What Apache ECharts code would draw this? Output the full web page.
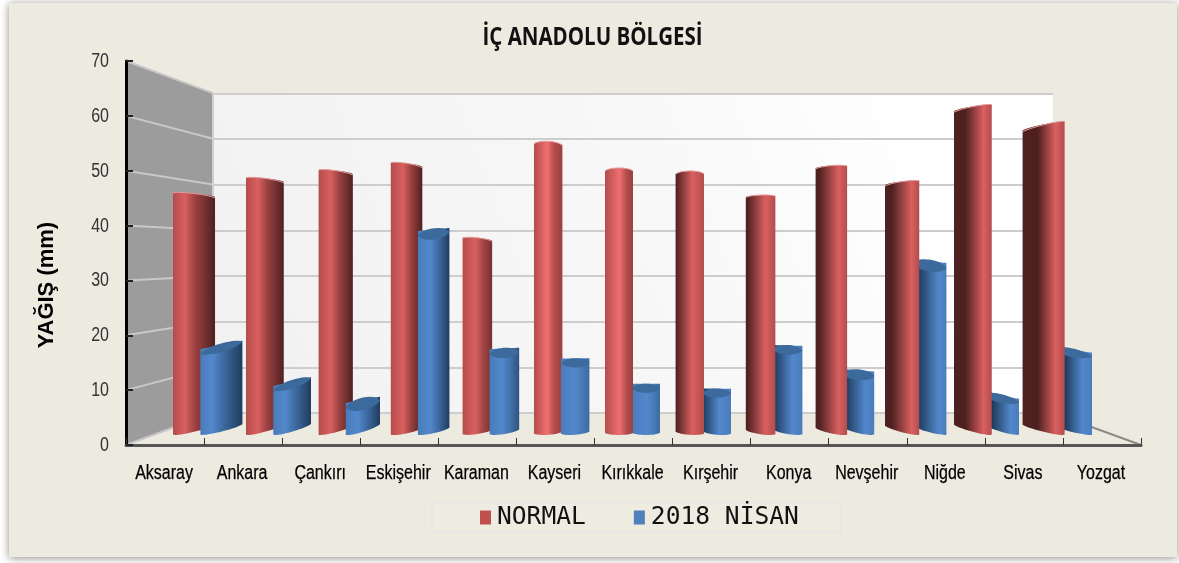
<!DOCTYPE html>
<html><head><meta charset="utf-8">
<style>html,body{margin:0;padding:0;background:#fff}#c{width:1179px;height:563px}</style>
<script src="https://cdn.jsdelivr.net/npm/echarts@6/dist/echarts.min.js"></script>
</head><body><div id="c"></div>
<script>
const categories = ['Aksaray','Ankara','Çankırı','Eskişehir','Karaman','Kayseri','Kırıkkale','Kırşehir','Konya','Nevşehir','Niğde','Sivas','Yozgat'];
const normalValues = [45.4,48.3,49.8,51.2,36.9,55.2,50.2,49.6,45.2,50.8,47.7,62.1,58.6];
const april2018Values = [16.2,9.2,5.4,38.1,15.2,13.3,8.4,7.5,15.8,11.0,32.0,6.5,15.3];
const yTicks = [0,10,20,30,40,50,60,70];

const chart = echarts.init(document.getElementById('c'), null, {renderer:'canvas'});
const FONT = '"Liberation Sans",sans-serif';

function mix(a,b,f){
  const p=s=>[1,3,5].map(k=>parseInt(s.substr(k,2),16));
  const A=p(a),B=p(b);
  return 'rgb('+A.map((v,k)=>Math.round(v+(B[k]-v)*f)).join(',')+')';
}
function shade(i,pal){
  const d=i-6,t=Math.abs(d);
  const h = d<0 ? 0.5+0.037*d : Math.min(0.78,0.52+0.07*t);
  const glow = (d===0||d===-1) ? pal.bright : pal.glow;
  if(d<=0){
    const a=Math.min(1,Math.max(0,(t-1)/2));
    return [{offset:0,color:pal.side},{offset:h,color:glow},
            {offset:Math.min(.95,h+.25),color:mix(pal.side,pal.dark,a*.25)},
            {offset:1,color:mix(pal.edge,pal.dark,a)}];
  }
  const plate=Math.min(.36,.012*t*t);
  return [{offset:0,color:pal.dark},{offset:plate,color:pal.dark},
          {offset:h,color:glow},{offset:1,color:pal.side}];
}
const RED={side:'#b44c4c',glow:'#d96060',bright:'#ee7070',edge:'#9a4040',dark:'#4f2020',cap:'#e49a9a'};
const BLUE={side:'#4a7cba',glow:'#5288cc',bright:'#5288cc',edge:'#3d6a9f',dark:'#1f3c5e',cap:'#3d6a9c'};

function arc(xa,ya,xb,yb,bulge){
  const dx=xb-xa,dy=yb-ya;
  return ' C'+(xa+dx*.15)+' '+(ya+dy*.15+bulge*1.33)+' '+(xa+dx*.85)+' '+(ya+dy*.85+bulge*1.33)+' '+xb+' '+yb;
}
function barRender(isBlue){
  return function(params,api){
    const i=api.value(0),v=api.value(1);
    const top=api.coord([i,v]),zero=api.coord([i,0]);
    const c=top[0],t=Math.abs(i-6),left=i<6;
    const w=28+0.39*t*t, spread=0.2*t*t;
    const L=isBlue?c+28+spread-w:c-27-spread, R=L+w;
    const baseTilt=10*Math.min(1,t/4.5), low=zero[1]+1;
    const bL=left?low:low-baseTilt, bR=left?low-baseTilt:low;
    let tL,tR;
    if(isBlue){
      const k=8*Math.min(1,Math.pow(t/5,2))*(left?1:.7);
      tL=top[1]+(left?k/2:-k/2); tR=top[1]+(left?-k/2:k/2);
    }else{
      const k=left?4*Math.min(1,t/3):9*Math.pow(t/6,2);
      tL=top[1]+(left?-k/2:k/2); tR=top[1]+(left?k/2:-k/2);
    }
    const front=isBlue?(i>=6?30:40):(i>=6?40:30);
    const pal=isBlue?BLUE:RED;
    const capB=isBlue?(t>=5?3:4.5):(t>=2?1.5:3);
    const bodyTop=isBlue?0:-capB;
    const body='M'+L+' '+tL+' L'+L+' '+bL+arc(L,bL,R,bR,2)+' L'+R+' '+tR+arc(R,tR,L,tL,bodyTop);
    const children=[{type:'path',z2:front,shape:{pathData:body,x:L,y:Math.min(tL,tR)-capB,width:R-L,height:Math.max(bL,bR)+2-Math.min(tL,tR)+capB,layout:'cover'},
      style:{fill:{type:'linear',x:0,y:0,x2:1,y2:0,colorStops:shade(i,pal)}}}];
    if(isBlue){
      children.push({type:'path',z2:front+1,shape:{pathData:'M'+L+' '+tL+arc(L,tL,R,tR,-capB)+arc(R,tR,L,tL,capB)+'Z',x:L,y:Math.min(tL,tR)-capB,width:R-L,height:Math.abs(tR-tL)+capB*2,layout:'cover'},
        style:{fill:pal.cap}});
    }else{
      children.push({type:'path',z2:front+1,shape:{pathData:'M'+L+' '+tL+arc(L,tL,R,tR,-capB),x:L,y:Math.min(tL,tR)-capB,width:R-L,height:Math.abs(tR-tL)+capB,layout:'cover'},
        style:{fill:'none',stroke:pal.cap,lineWidth:1}});
    }
    return {type:'group',children};
  };
}
const DEPTH_X=87, BACK_ZERO=413, BACK_RATIO=4.57/5.486, RIGHT_BACK=1053;
function wallRender(params,api){
  const v=api.value(1);
  const p=api.coord([0,v]), z=api.coord([0,0]), top=api.coord([0,70]);
  const xF=z[0]-api.size([1,0])[0]/2, xB=xF+DEPTH_X;
  const back=y=>BACK_ZERO-(z[1]-y)*BACK_RATIO;
  const kids=[];
  if(params.dataIndex===0){
    kids.push({type:'polygon',z2:1,shape:{points:[[xF,top[1]],[xB,back(top[1])],[xB,BACK_ZERO],[xF,z[1]]]},style:{fill:'#9c9c9c'}});
    kids.push({type:'line',z2:3,shape:{x1:RIGHT_BACK,y1:BACK_ZERO,x2:xF+1015,y2:z[1]},style:{stroke:'#8a8a86',lineWidth:2}});
    kids.push({type:'line',z2:3,shape:{x1:xB,y1:back(top[1]),x2:xB,y2:BACK_ZERO},style:{stroke:'#cfcfcf',lineWidth:2}});
  }
  kids.push({type:'line',z2:2,shape:{x1:xF,y1:p[1],x2:xB,y2:back(p[1])},style:{stroke:'#c8c8c8',lineWidth:2}});
  return {type:'group',children:kids};
}
function yLabelRender(params,api){
  const v=api.value(1),p=api.coord([0,v]);
  const x=p[0]-api.size([1,0])[0]/2-17;
  return {type:'text',x:x,y:p[1]+.5,scaleX:.8,z2:60,
    style:{text:String(v),align:'right',verticalAlign:'middle',fontFamily:FONT,fontSize:20,fill:'#333'}};
}
function xLabelRender(params,api){
  const i=api.value(0),p=api.coord([i,0]);
  return {type:'text',x:p[0]-1,y:p[1]+28,scaleX:.8,z2:60,
    style:{text:categories[i],align:'center',verticalAlign:'middle',fontFamily:FONT,fontSize:20,fill:'#000',stroke:'#000',lineWidth:.25}};
}

const option={
  animation:false,
  backgroundColor:'#ffffff',
  graphic:[
    {type:'rect',z:-10,silent:true,shape:{x:9,y:3,width:1168,height:554},
     style:{fill:'#edeae0',shadowBlur:8,shadowColor:'rgba(0,0,0,.45)',shadowOffsetX:0,shadowOffsetY:1}},
    {type:'text',z:10,silent:true,x:592.5,y:38,scaleX:.82,
     style:{text:'İÇ ANADOLU BÖLGESİ',align:'center',verticalAlign:'middle',fontFamily:'"Open Sans",sans-serif',fontWeight:'bold',fontSize:25,fill:'#111'}}
  ],
  legend:{left:432,top:503,orient:'horizontal',padding:[2,42,2,48],itemGap:48,itemWidth:11,itemHeight:14,
    icon:'rect',backgroundColor:'#eeebe1',borderColor:'#e2e5e6',borderWidth:1,borderRadius:0,
    textStyle:{fontFamily:'"DejaVu Sans Mono",monospace',fontSize:24.6,color:'#111',padding:[0,0,0,1]},
    data:['NORMAL','2018 NİSAN']},
  grid:[
    {left:126,top:61,right:38,bottom:118,show:false,z:5},
    {left:171.8,width:920.4,top:68,bottom:131,show:false},
    {left:213,right:126,top:93.3,bottom:150,show:true,borderWidth:0,z:0,
     backgroundColor:{type:'linear',x:0,y:1,x2:1,y2:0,colorStops:[{offset:0,color:'#f1f1f1'},{offset:.55,color:'#f8f8f8'},{offset:.85,color:'#ffffff'},{offset:1,color:'#ffffff'}]}}
  ],
  xAxis:[
    {gridIndex:0,type:'category',data:categories,z:6,
     axisLine:{lineStyle:{color:'#555',width:3}},
     axisTick:{show:true,inside:true,length:7,lineStyle:{color:'#333',width:1}},
     axisLabel:{show:false}},
    {gridIndex:1,type:'category',data:categories,show:false},
    {gridIndex:2,type:'category',data:categories,show:false}
  ],
  yAxis:[
    {gridIndex:0,type:'value',min:0,max:70,interval:10,z:6,
     name:'YAĞIŞ (mm)',nameLocation:'middle',nameGap:68,nameRotate:90,
     nameTextStyle:{fontFamily:'"Liberation Sans",sans-serif',fontWeight:'bold',fontSize:22,color:'#000',padding:[0,64,0,0]},
     axisLine:{show:true,lineStyle:{color:'#000',width:3}},
     axisTick:{show:true,inside:true,length:7,lineStyle:{color:'#222',width:2}},
     axisLabel:{show:false},
     splitLine:{show:false}},
    {gridIndex:1,type:'value',min:0,max:70,interval:10,show:false},
    {gridIndex:2,type:'value',min:0,max:70,interval:10,
     axisLine:{show:false},axisTick:{show:false},axisLabel:{show:false},
     splitLine:{show:true,lineStyle:{color:'#cdcdcd',width:2}}}
  ],
  series:[
    {type:'custom',name:'walls',xAxisIndex:0,yAxisIndex:0,z:1,silent:true,renderItem:wallRender,
     encode:{x:0,y:1},data:yTicks.map(v=>[0,v])},
    {type:'custom',name:'NORMAL',xAxisIndex:1,yAxisIndex:1,z:3,silent:true,itemStyle:{color:'#c0504d'},
     renderItem:barRender(false),encode:{x:0,y:1},data:normalValues.map((v,i)=>[i,v])},
    {type:'custom',name:'2018 NİSAN',xAxisIndex:1,yAxisIndex:1,z:3,silent:true,itemStyle:{color:'#4f81bd'},
     renderItem:barRender(true),encode:{x:0,y:1},data:april2018Values.map((v,i)=>[i,v])},
    {type:'custom',name:'yTickLabels',xAxisIndex:0,yAxisIndex:0,z:7,silent:true,renderItem:yLabelRender,
     encode:{x:0,y:1},data:yTicks.map(v=>[0,v])},
    {type:'custom',name:'xTickLabels',xAxisIndex:0,yAxisIndex:0,z:7,silent:true,renderItem:xLabelRender,
     encode:{x:0,y:1},data:categories.map((c,i)=>[i,0])}
  ]
};
chart.setOption(option);
</script></body></html>
